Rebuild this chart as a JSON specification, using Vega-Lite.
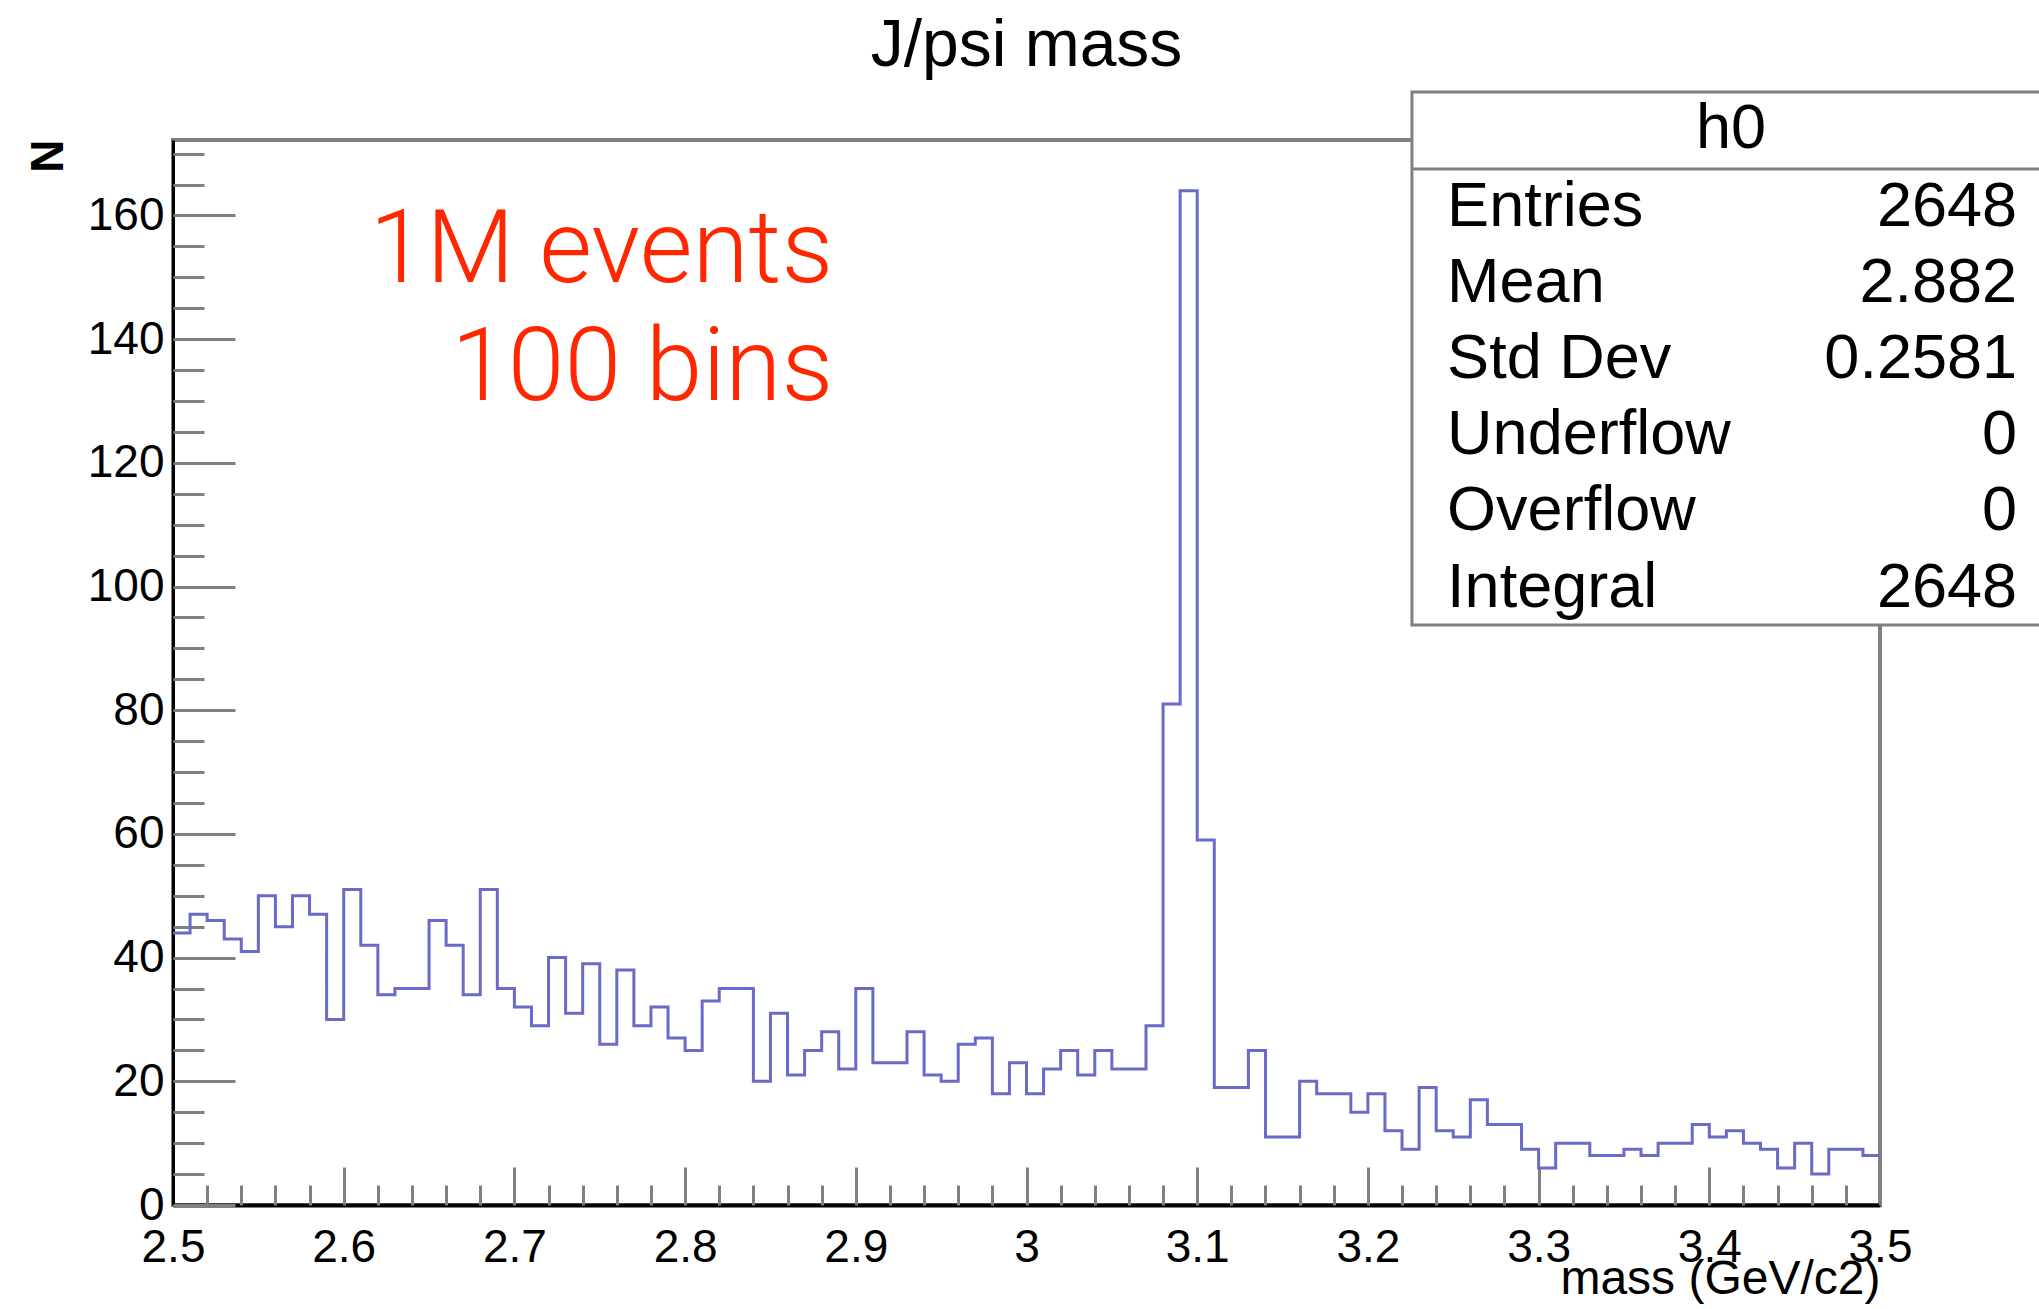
{
  "$schema": "https://vega.github.io/schema/vega-lite/v6.json",
  "width": 1707,
  "height": 1065,
  "autosize": {"type": "none"},
  "padding": {"left": 173, "top": 140, "right": 159, "bottom": 104},
  "background": "white",
  "title": {"text": "J/psi mass", "font": "Liberation Sans", "fontSize": 66, "fontWeight": "normal", "color": "#000000", "anchor": "middle", "offset": 11},
  "config": {
    "view": {"stroke": "#808080", "strokeWidth": 4},
    "font": "Liberation Sans",
    "axis": {"labelFont": "Liberation Sans", "titleFont": "Liberation Sans", "grid": false}
  },
  "resolve": {"axis": {"x": "independent", "y": "independent"}},
  "layer": [
    {
      "data": {"values": [
        {"mass": 2.50, "N": 44}, {"mass": 2.51, "N": 47}, {"mass": 2.52, "N": 46}, {"mass": 2.53, "N": 43}, {"mass": 2.54, "N": 41},
        {"mass": 2.55, "N": 50}, {"mass": 2.56, "N": 45}, {"mass": 2.57, "N": 50}, {"mass": 2.58, "N": 47}, {"mass": 2.59, "N": 30},
        {"mass": 2.60, "N": 51}, {"mass": 2.61, "N": 42}, {"mass": 2.62, "N": 34}, {"mass": 2.63, "N": 35}, {"mass": 2.64, "N": 35},
        {"mass": 2.65, "N": 46}, {"mass": 2.66, "N": 42}, {"mass": 2.67, "N": 34}, {"mass": 2.68, "N": 51}, {"mass": 2.69, "N": 35},
        {"mass": 2.70, "N": 32}, {"mass": 2.71, "N": 29}, {"mass": 2.72, "N": 40}, {"mass": 2.73, "N": 31}, {"mass": 2.74, "N": 39},
        {"mass": 2.75, "N": 26}, {"mass": 2.76, "N": 38}, {"mass": 2.77, "N": 29}, {"mass": 2.78, "N": 32}, {"mass": 2.79, "N": 27},
        {"mass": 2.80, "N": 25}, {"mass": 2.81, "N": 33}, {"mass": 2.82, "N": 35}, {"mass": 2.83, "N": 35}, {"mass": 2.84, "N": 20},
        {"mass": 2.85, "N": 31}, {"mass": 2.86, "N": 21}, {"mass": 2.87, "N": 25}, {"mass": 2.88, "N": 28}, {"mass": 2.89, "N": 22},
        {"mass": 2.90, "N": 35}, {"mass": 2.91, "N": 23}, {"mass": 2.92, "N": 23}, {"mass": 2.93, "N": 28}, {"mass": 2.94, "N": 21},
        {"mass": 2.95, "N": 20}, {"mass": 2.96, "N": 26}, {"mass": 2.97, "N": 27}, {"mass": 2.98, "N": 18}, {"mass": 2.99, "N": 23},
        {"mass": 3.00, "N": 18}, {"mass": 3.01, "N": 22}, {"mass": 3.02, "N": 25}, {"mass": 3.03, "N": 21}, {"mass": 3.04, "N": 25},
        {"mass": 3.05, "N": 22}, {"mass": 3.06, "N": 22}, {"mass": 3.07, "N": 29}, {"mass": 3.08, "N": 81}, {"mass": 3.09, "N": 164},
        {"mass": 3.10, "N": 59}, {"mass": 3.11, "N": 19}, {"mass": 3.12, "N": 19}, {"mass": 3.13, "N": 25}, {"mass": 3.14, "N": 11},
        {"mass": 3.15, "N": 11}, {"mass": 3.16, "N": 20}, {"mass": 3.17, "N": 18}, {"mass": 3.18, "N": 18}, {"mass": 3.19, "N": 15},
        {"mass": 3.20, "N": 18}, {"mass": 3.21, "N": 12}, {"mass": 3.22, "N": 9}, {"mass": 3.23, "N": 19}, {"mass": 3.24, "N": 12},
        {"mass": 3.25, "N": 11}, {"mass": 3.26, "N": 17}, {"mass": 3.27, "N": 13}, {"mass": 3.28, "N": 13}, {"mass": 3.29, "N": 9},
        {"mass": 3.30, "N": 6}, {"mass": 3.31, "N": 10}, {"mass": 3.32, "N": 10}, {"mass": 3.33, "N": 8}, {"mass": 3.34, "N": 8},
        {"mass": 3.35, "N": 9}, {"mass": 3.36, "N": 8}, {"mass": 3.37, "N": 10}, {"mass": 3.38, "N": 10}, {"mass": 3.39, "N": 13},
        {"mass": 3.40, "N": 11}, {"mass": 3.41, "N": 12}, {"mass": 3.42, "N": 10}, {"mass": 3.43, "N": 9}, {"mass": 3.44, "N": 6},
        {"mass": 3.45, "N": 10}, {"mass": 3.46, "N": 5}, {"mass": 3.47, "N": 9}, {"mass": 3.48, "N": 9}, {"mass": 3.49, "N": 8},
        {"mass": 3.50, "N": 8}
      ]},
      "mark": {"type": "line", "interpolate": "step-after", "stroke": "#6a6ac8", "strokeWidth": 3},
      "encoding": {
        "x": {
          "field": "mass", "type": "quantitative",
          "scale": {"domain": [2.5, 3.5], "nice": false, "zero": false},
          "axis": {
            "orient": "bottom",
            "title": "mass (GeV/c2)",
            "values": [2.5, 2.6, 2.7, 2.8, 2.9, 3, 3.1, 3.2, 3.3, 3.4, 3.5],
            "format": "~g",
            "labelFontSize": 46,
            "labelColor": "#000000",
            "labelPadding": 58,
            "labelFlush": false,
            "labelOverlap": false,
            "tickColor": "#808080",
            "tickWidth": 3,
            "tickSize": -38,
            "domainColor": "#000000",
            "domainWidth": 4,
            "titleFontSize": 48,
            "titleFontWeight": "normal",
            "titleColor": "#000000",
            "titleAlign": "right",
            "titleBaseline": "alphabetic",
            "titleX": 1707,
            "titleY": 88
          }
        },
        "y": {
          "field": "N", "type": "quantitative",
          "scale": {"domain": [0, 172.2], "nice": false},
          "axis": {
            "orient": "left",
            "title": "N",
            "values": [0, 20, 40, 60, 80, 100, 120, 140, 160],
            "labelFontSize": 46,
            "labelColor": "#000000",
            "labelPadding": 71,
            "labelOverlap": false,
            "labelFlush": false,
            "tickColor": "#808080",
            "tickWidth": 3,
            "tickSize": -62,
            "domainColor": "#000000",
            "domainWidth": 3,
            "titleFontSize": 46,
            "titleFontWeight": "bold",
            "titleColor": "#000000",
            "titleAngle": -90,
            "titleAlign": "right",
            "titleBaseline": "alphabetic",
            "titleX": -111,
            "titleY": -1
          }
        }
      }
    },
    {
      "data": {"values": [{}]},
      "mark": {"type": "rect", "fill": "#ffffff", "stroke": "#808080", "strokeWidth": 3},
      "encoding": {
        "x": {"datum": 3.2258, "type": "quantitative", "axis": {
          "orient": "bottom",
          "title": null,
          "values": [2.5, 2.52, 2.54, 2.56, 2.58, 2.6, 2.62, 2.64, 2.66, 2.68, 2.7, 2.72, 2.74, 2.76, 2.78, 2.8, 2.82, 2.84, 2.86, 2.88, 2.9, 2.92, 2.94, 2.96, 2.98, 3, 3.02, 3.04, 3.06, 3.08, 3.1, 3.12, 3.14, 3.16, 3.18, 3.2, 3.22, 3.24, 3.26, 3.28, 3.3, 3.32, 3.34, 3.36, 3.38, 3.4, 3.42, 3.44, 3.46, 3.48, 3.5],
          "labels": false,
          "domain": false,
          "tickColor": "#808080",
          "tickWidth": 3,
          "tickSize": -20
        }},
        "x2": {"datum": 3.62},
        "y": {"datum": 179.96, "type": "quantitative", "axis": {
          "orient": "left",
          "title": null,
          "values": [0, 5, 10, 15, 20, 25, 30, 35, 40, 45, 50, 55, 60, 65, 70, 75, 80, 85, 90, 95, 100, 105, 110, 115, 120, 125, 130, 135, 140, 145, 150, 155, 160, 165, 170],
          "labels": false,
          "domain": false,
          "tickColor": "#808080",
          "tickWidth": 3,
          "tickSize": -31
        }},
        "y2": {"datum": 93.8}
      }
    },
    {
      "data": {"values": [{}]},
      "mark": {"type": "rule", "stroke": "#808080", "strokeWidth": 3},
      "encoding": {
        "x": {"datum": 3.2258, "type": "quantitative", "axis": null},
        "x2": {"datum": 3.62},
        "y": {"datum": 167.5, "type": "quantitative", "axis": null}
      }
    },
    {
      "data": {"values": [{}]},
      "mark": {"type": "text", "font": "Liberation Sans", "fontSize": 63, "align": "center", "baseline": "alphabetic", "color": "#000000"},
      "encoding": {
        "x": {"datum": 3.4127, "type": "quantitative", "axis": null},
        "y": {"datum": 170.9, "type": "quantitative", "axis": null},
        "text": {"value": "h0"}
      }
    },
    {
      "data": {"values": [{}]},
      "mark": {"type": "text", "font": "Liberation Sans", "fontSize": 63, "align": "left", "baseline": "alphabetic", "lineHeight": 76.1, "color": "#000000"},
      "encoding": {
        "x": {"datum": 3.2464, "type": "quantitative", "axis": null},
        "y": {"datum": 158.29, "type": "quantitative", "axis": null},
        "text": {"value": ["Entries", "Mean", "Std Dev", "Underflow", "Overflow", "Integral"]}
      }
    },
    {
      "data": {"values": [{}]},
      "mark": {"type": "text", "font": "Liberation Sans", "fontSize": 63, "align": "right", "baseline": "alphabetic", "lineHeight": 76.1, "color": "#000000"},
      "encoding": {
        "x": {"datum": 3.5803, "type": "quantitative", "axis": null},
        "y": {"datum": 158.29, "type": "quantitative", "axis": null},
        "text": {"value": ["2648", "2.882", "0.2581", "0", "0", "2648"]}
      }
    },
    {
      "data": {"values": [{}]},
      "mark": {"type": "text", "font": "Roboto", "fontWeight": 300, "fontSize": 102, "align": "right", "baseline": "alphabetic", "lineHeight": 118.3, "color": "#ff2600"},
      "encoding": {
        "x": {"datum": 2.8867, "type": "quantitative", "axis": null},
        "y": {"datum": 149.29, "type": "quantitative", "axis": null},
        "text": {"value": ["1M events", "100 bins"]}
      }
    }
  ]
}
